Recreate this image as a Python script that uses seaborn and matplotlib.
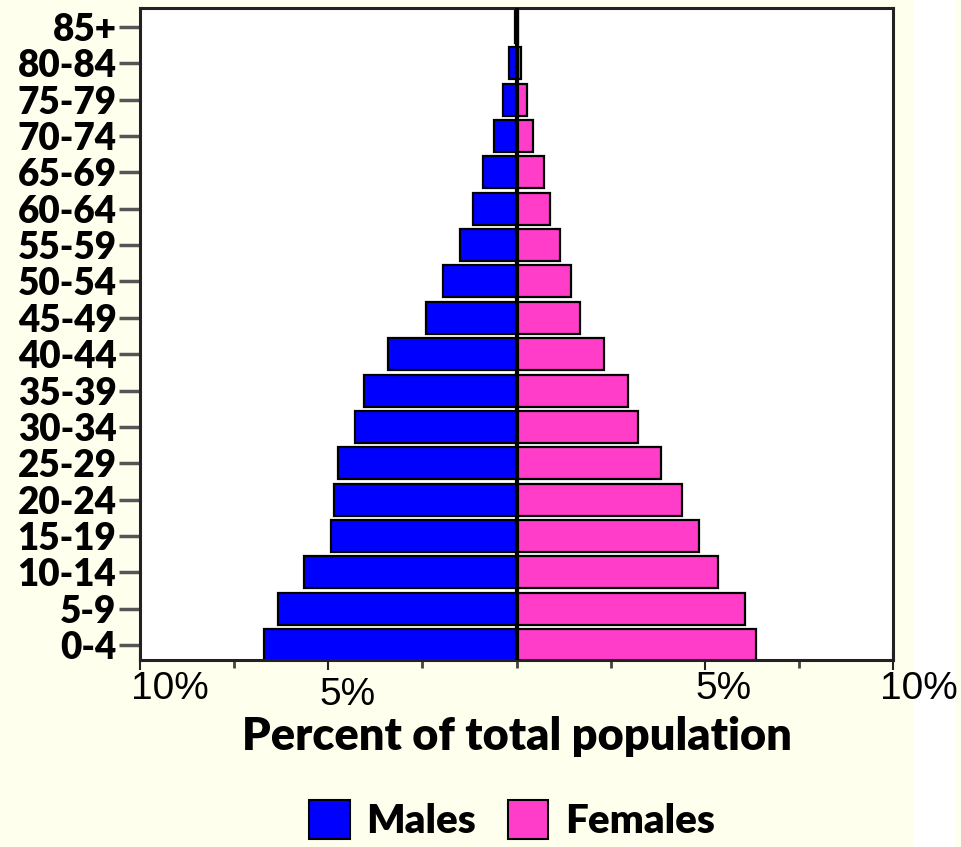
import pandas as pd
import matplotlib.pyplot as plt
import matplotlib.patches as mpatches
from matplotlib.ticker import FixedLocator, NullFormatter
import seaborn as sns

# age groups, youngest first
ages = ['0-4', '5-9', '10-14', '15-19', '20-24', '25-29', '30-34', '35-39', '40-44',
        '45-49', '50-54', '55-59', '60-64', '65-69', '70-74', '75-79', '80-84', '85+']
# percent of total population
males = [6.71, 6.34, 5.64, 4.92, 4.84, 4.73, 4.28, 4.04, 3.40,
         2.41, 1.95, 1.50, 1.15, 0.88, 0.61, 0.35, 0.19, 0.04]
females = [6.36, 6.07, 5.35, 4.84, 4.39, 3.85, 3.24, 2.97, 2.33,
           1.68, 1.44, 1.15, 0.88, 0.72, 0.43, 0.27, 0.11, 0.04]

# x tick labels (text, where it sits in percent units)
xlabels = ['10%', '5%', '5%', '10%']
xlabel_pos = [-9.2, -4.5, 5.5, 10.7]

male_color = '#0000FF'
female_color = '#FF3DC8'
bg = '#FFFFEE'

df = pd.DataFrame({
    'age': ages * 2,
    'value': [-m for m in males] + females,
    'sex': ['Males'] * len(ages) + ['Females'] * len(ages),
})

order = ages[::-1]  # 85+ at top

fig = plt.figure(figsize=(9.61, 8.47), dpi=100, facecolor=bg)
fig.patches.append(mpatches.Rectangle((913 / 961, 0), 42 / 961, 1, transform=fig.transFigure,
                                      facecolor='white', edgecolor='none', zorder=-10))
ax = fig.add_axes([140 / 961, 1 - 660 / 847, 753 / 961, 652 / 847])
ax.set_facecolor('white')

sns.barplot(data=df[df['sex'] == 'Males'], x='value', y='age', order=order, orient='h',
            color=male_color, width=0.88, edgecolor='black', linewidth=1.6, ax=ax, zorder=2)
sns.barplot(data=df[df['sex'] == 'Females'], x='value', y='age', order=order, orient='h',
            color=female_color, width=0.88, edgecolor='black', linewidth=1.6, ax=ax, zorder=2)
# barplot saturates colors; reset them
for p in ax.patches:
    if p.get_width() < 0:
        p.set_facecolor(male_color)
    else:
        p.set_facecolor(female_color)

ax.axvline(0, color='black', lw=3, zorder=3)
ax.set_xlim(-10, 10)
ax.set_ylim(len(ages) - 1 + 0.41, -0.52)

for s in ax.spines.values():
    s.set_color('#222222')
    s.set_linewidth(2.2)

ax.set_ylabel('')
ax.set_xlabel('Percent of total population', fontsize=32.5, fontweight='heavy',
              family='Lato', labelpad=30)
ax.tick_params(axis='y', length=15, width=2.5, color='#555555', pad=2)
for lab in ax.get_yticklabels():
    lab.set_fontsize(26.5)
    lab.set_fontweight('heavy')
    lab.set_family('Lato')

ax.xaxis.set_major_locator(FixedLocator([-10, -5, 5, 10]))
ax.xaxis.set_minor_locator(FixedLocator([-7.5, -2.5, 0, 2.5, 7.5]))
ax.xaxis.set_major_formatter(NullFormatter())
ax.tick_params(axis='x', which='major', direction='inout', length=14, width=1.5, color='#222222')
ax.tick_params(axis='x', which='minor', direction='out', length=6, width=2, color='#444444')

for txt, xp in zip(xlabels, xlabel_pos):
    yoff = -0.053 if txt == '5%' and xp < 0 else -0.045
    ax.text(xp, yoff, txt, transform=ax.get_xaxis_transform(), ha='center', va='center',
            fontsize=28, family='Liberation Sans')

handles = [mpatches.Patch(facecolor=male_color, edgecolor='black', lw=1.5, label='Males'),
           mpatches.Patch(facecolor=female_color, edgecolor='black', lw=1.5, label='Females')]
leg = fig.legend(handles=handles, loc='center', bbox_to_anchor=(512 / 961, 1 - 820 / 847),
                 ncol=2, frameon=False, handlelength=1.0, handleheight=1.1, handletextpad=0.42,
                 columnspacing=0.78, prop={'family': 'Lato', 'weight': 'heavy', 'size': 29})

fig.savefig('out.png', dpi=100, facecolor=bg)
